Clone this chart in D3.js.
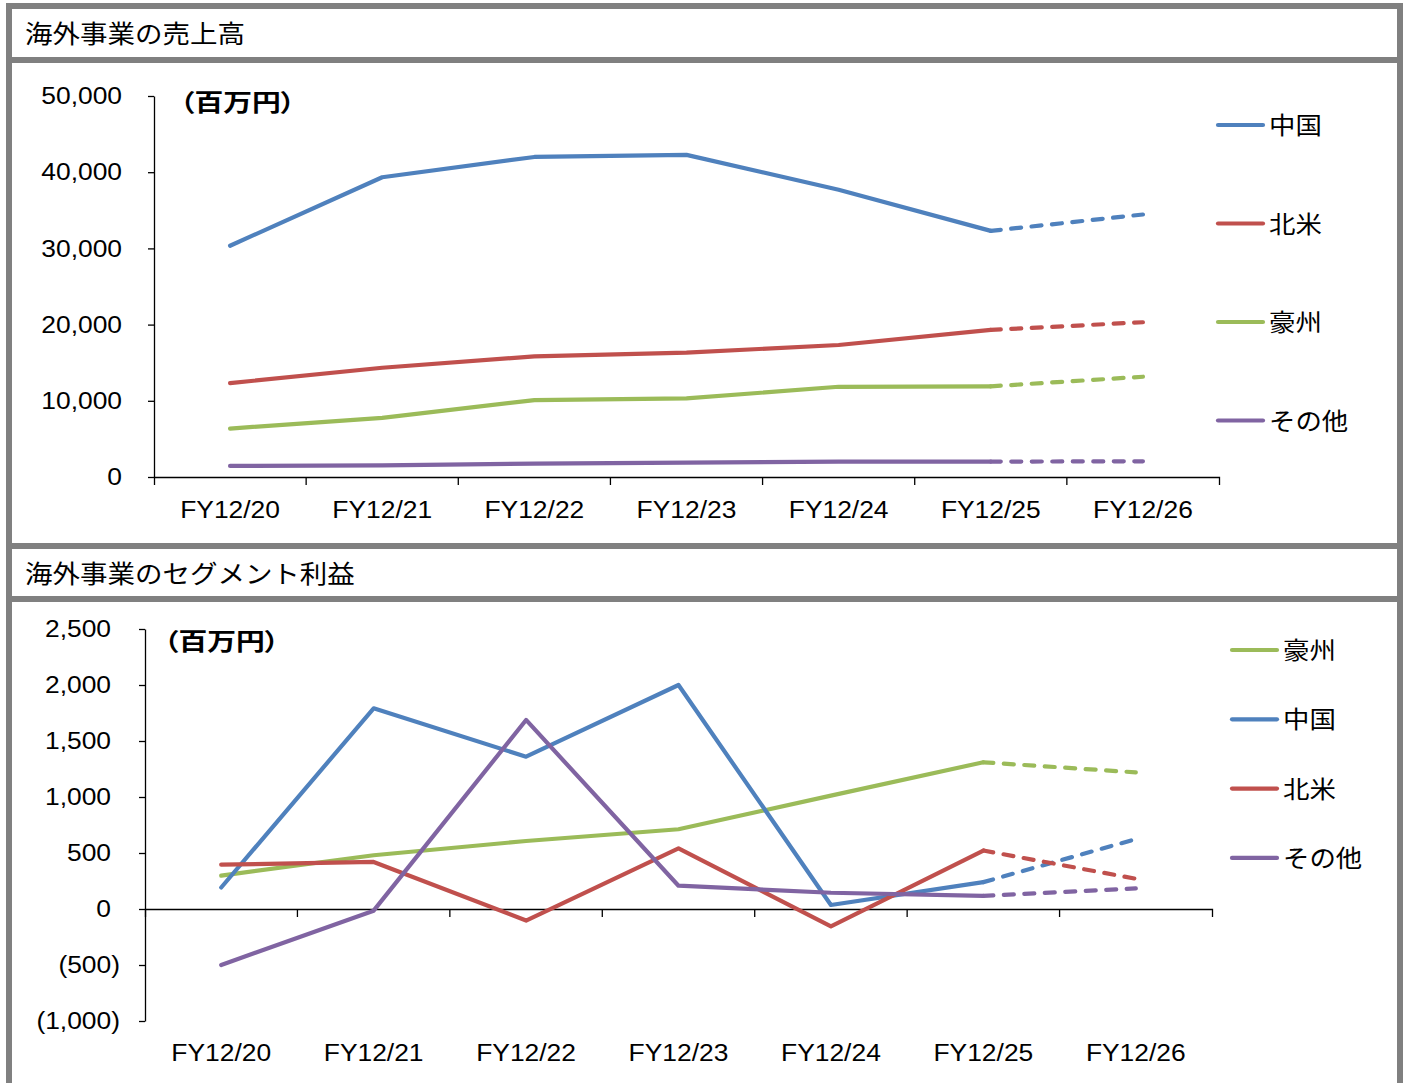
<!DOCTYPE html>
<html>
<head>
<meta charset="utf-8">
<script src="https://cdn.jsdelivr.net/npm/d3@7"></script>
<style>
  body { margin: 0; background: #fff; }
  .palt { font-feature-settings: "palt"; }
</style>
</head>
<body>
<svg id="mainsvg" width="1407" height="1083"></svg>
<script>
// ---- data ----
const years = ["FY12/20", "FY12/21", "FY12/22", "FY12/23", "FY12/24", "FY12/25", "FY12/26"];

// 売上高 (百万円)
const salesSeries = ["中国", "北米", "豪州", "その他"];
const salesChina = [30350, 39340, 42000, 42270, 37700, 32300, 34450];
const salesNorthAmerica = [12320, 14340, 15830, 16320, 17320, 19300, 20310];
const salesAustralia = [6360, 7760, 10090, 10310, 11840, 11900, 13160];
const salesOther = [1450, 1520, 1750, 1890, 2020, 2020, 2060];
const salesTicks = [0, 10000, 20000, 30000, 40000, 50000];

// セグメント利益 (百万円)
const profitSeries = ["豪州", "中国", "北米", "その他"];
const profitAustralia = [298, 480, 607, 712, 1012, 1310, 1220];
const profitChina = [192, 1792, 1360, 2000, 36, 240, 624];
const profitNorthAmerica = [396, 420, -103, 541, -155, 522, 270];
const profitOther = [-500, -15, 1688, 208, 145, 118, 184];
const profitTicks = [-1000, -500, 0, 500, 1000, 1500, 2000, 2500];

const seriesColor = {"中国": "#4F81BD", "北米": "#C0504D", "豪州": "#9BBB59", "その他": "#8064A2"};

const svg = d3.select("#mainsvg");
const STRETCH = 1.1;
const LINE_W = 4.2;
const NUM_FONT = "'Liberation Sans', Arial, sans-serif";
const JP_FONT = "'Noto Sans CJK JP', sans-serif";

function stretchText(g, x, y, txt, size, family, anchor, sx) {
    return g.append("text")
        .attr("transform", `translate(${x},${y}) scale(${sx || STRETCH},1)`)
        .attr("font-size", size)
        .attr("font-family", family)
        .attr("text-anchor", anchor || "start")
        .attr("fill", "#000")
        .text(txt);
}

// ---- frame ----
svg.append("rect").attr("x", 6).attr("y", 3).attr("width", 1397).attr("height", 1090).attr("fill", "#808080");
let cells = [[9, 57], [63, 543], [549, 596], [602, 1090]];
for (let c of cells) {
    svg.append("rect").attr("x", 12).attr("y", c[0]).attr("width", 1385).attr("height", c[1] - c[0]).attr("fill", "#fff");
}
stretchText(svg, 25, 43, "海外事業の売上高", 25, JP_FONT, "start");
stretchText(svg, 25, 583, "海外事業のセグメント利益", 25, JP_FONT, "start");

// ---- chart ----
let drawChart = function (cfg) {
    let g = svg.append("g");
    let x = d3.scaleBand().domain(years).range(cfg.xRange);
    let y = d3.scaleLinear().domain(cfg.yDomain).range(cfg.yRange);
    let cx = d => x(d) + x.bandwidth() / 2;

    // y axis
    let ya = g.append("g")
        .attr("transform", `translate(${cfg.xRange[0]},0)`)
        .call(d3.axisLeft(y).tickValues(cfg.ticks).tickSize(6).tickSizeOuter(0).tickFormat(cfg.fmt));
    ya.select(".domain").attr("stroke", "#000").attr("stroke-width", 1.3);
    ya.selectAll(".tick line").attr("stroke", "#000").attr("stroke-width", 1.3);
    ya.selectAll(".tick text")
        .attr("font-size", 24)
        .attr("font-family", NUM_FONT)
        .attr("fill", "#000")
        .attr("x", d => -cfg.labelGap(d) / STRETCH)
        .attr("transform", `scale(${STRETCH},1)`);

    // x axis at zero
    let y0 = y(0);
    let xa = g.append("g")
        .attr("transform", `translate(0,${y0})`)
        .call(d3.axisBottom(x).tickSize(0).tickSizeOuter(8).tickFormat(""));
    xa.select(".domain").attr("stroke", "#000").attr("stroke-width", 1.3);
    let bounds = d3.range(1, years.length).map(i => cfg.xRange[0] + i * x.step());
    g.selectAll(".xtick").data(bounds).enter()
        .append("line")
        .attr("class", "xtick")
        .attr("x1", d => d).attr("x2", d => d)
        .attr("y1", y0).attr("y2", y0 + 8)
        .attr("stroke", "#000").attr("stroke-width", 1.3);
    for (let yr of years) {
        stretchText(g, cx(yr), cfg.labelY, yr, 24, NUM_FONT, "middle");
    }

    // unit label
    stretchText(g, cfg.unitPos[0], cfg.unitPos[1], "（百万円）", 24, JP_FONT, "start", 1.2)
        .attr("class", "palt")
        .attr("font-weight", "bold");

    // lines
    let line = d3.line().x(d => cx(d.year)).y(d => y(d.v));
    cfg.series.forEach(function (name, si) {
        let pts = years.map((yr, i) => ({year: yr, v: cfg.values[si][i]}));
        let col = seriesColor[name];
        g.append("path").datum(pts.slice(0, 6))
            .attr("d", line)
            .attr("fill", "none").attr("stroke", col).attr("stroke-width", LINE_W)
            .attr("stroke-linecap", "round").attr("stroke-linejoin", "round");
        g.append("path").datum(pts.slice(5))
            .attr("d", line)
            .attr("fill", "none").attr("stroke", col).attr("stroke-width", LINE_W)
            .attr("stroke-dasharray", "10,10.5")
            .attr("stroke-linecap", "round");
    });

    // legend
    cfg.series.forEach(function (name, i) {
        let ly = cfg.legend.y + i * cfg.legend.step;
        g.append("line")
            .attr("x1", cfg.legend.x).attr("x2", cfg.legend.x + 45)
            .attr("y1", ly).attr("y2", ly)
            .attr("stroke", seriesColor[name]).attr("stroke-width", LINE_W)
            .attr("stroke-linecap", "round");
        stretchText(g, cfg.legend.x + 51, ly + 9, name, 24, JP_FONT, "start");
    });
};

drawChart({
    xRange: [154, 1219],
    yDomain: [0, 50000],
    yRange: [477, 96],
    ticks: salesTicks,
    fmt: d3.format(","),
    labelGap: d => 32,
    labelY: 518,
    unitPos: [180, 111],
    series: salesSeries,
    values: [salesChina, salesNorthAmerica, salesAustralia, salesOther],
    legend: {x: 1218, y: 125, step: 98.5}
});

drawChart({
    xRange: [145, 1212],
    yDomain: [-1000, 2500],
    yRange: [1021, 629],
    ticks: profitTicks,
    fmt: d => d < 0 ? "(" + d3.format(",")(-d) + ")" : d3.format(",")(d),
    labelGap: d => d < 0 ? 25 : 34,
    labelY: 1061,
    unitPos: [164, 650],
    series: profitSeries,
    values: [profitAustralia, profitChina, profitNorthAmerica, profitOther],
    legend: {x: 1232, y: 650, step: 69.3}
});
</script>
</body>
</html>
